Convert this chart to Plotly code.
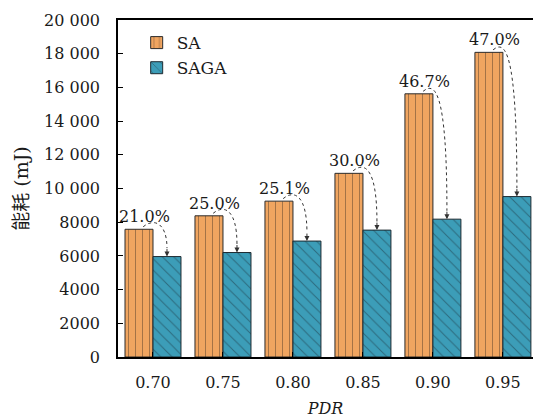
import plotly.graph_objects as go

categories = ["0.70", "0.75", "0.80", "0.85", "0.90", "0.95"]
sa_values = [7580, 8380, 9250, 10900, 15620, 18080]
saga_values = [5960, 6200, 6880, 7530, 8180, 9520]
pct_labels = ["21.0%", "25.0%", "25.1%", "30.0%", "46.7%", "47.0%"]
y_tickvals = [0, 2000, 4000, 6000, 8000, 10000, 12000, 14000, 16000, 18000, 20000]
y_ticktext = ["0", "2000", "4000", "6000", "8000", "10 000", "12 000", "14 000", "16 000", "18 000", "20 000"]

FONT = "DejaVu Serif, Noto Sans CJK SC"
FS = 16
idx = list(range(len(categories)))

fig = go.Figure()
fig.add_trace(go.Bar(
    x=idx, y=sa_values, name="SA",
    marker=dict(color="#F0A560", line=dict(color="#2b2b2b", width=1),
                pattern=dict(shape="|", size=7, solidity=0.12, fgcolor="#3a2c20", bgcolor="#F0A560")),
))
fig.add_trace(go.Bar(
    x=idx, y=saga_values, name="SAGA",
    marker=dict(color="#3C9DB8", line=dict(color="#1e2a30", width=1),
                pattern=dict(shape="\\", size=8, solidity=0.12, fgcolor="#1c3440", bgcolor="#3C9DB8")),
))

shapes = []
annotations = []
for i, (a, b, t) in enumerate(zip(sa_values, saga_values, pct_labels)):
    x0, y0 = i - 0.14, a + 150
    x3, y3 = i + 0.2, b + 500
    path = f"M {x0},{y0} C {i + 0.02},{a + 700} {x3},{a + 350} {x3},{y3}"
    shapes.append(dict(type="path", xref="x", yref="y", path=path,
                       line=dict(color="#333333", width=1, dash="dot")))
    annotations.append(dict(x=x3, y=b, xref="x", yref="y", text="", showarrow=True,
                            ax=0, ay=-9, arrowhead=2, arrowsize=1, arrowwidth=1,
                            arrowcolor="#333333"))
    annotations.append(dict(x=i, y=a, xref="x", yref="y", text=t, showarrow=False,
                            xshift=-8, yanchor="bottom", yshift=1,
                            font=dict(family=FONT, size=FS, color="#1a1a1a")))

fig.update_layout(
    width=533, height=418,
    margin=dict(l=118, r=0, t=20, b=61),
    paper_bgcolor="white", plot_bgcolor="white",
    barmode="group", bargap=0.2, bargroupgap=0,
    font=dict(family=FONT, size=FS, color="#1a1a1a"),
    showlegend=True,
    legend=dict(x=0.045, y=0.985, xanchor="left", yanchor="top",
                bgcolor="rgba(0,0,0,0)", font=dict(family=FONT, size=FS + 1), tracegroupgap=0),
    shapes=shapes, annotations=annotations,
    xaxis=dict(range=[-0.5, 5.43], tickvals=idx, ticktext=categories,
               ticks="inside", ticklen=5, tickcolor="black",
               showline=True, linecolor="black", linewidth=1.5, mirror=True,
               showgrid=False, zeroline=False, ticklabelstandoff=10,
               tickfont=dict(family=FONT, size=FS),
               title=dict(text="<i>PDR</i>", standoff=12, font=dict(family=FONT, size=FS))),
    yaxis=dict(range=[0, 20000], tickvals=y_tickvals, ticktext=y_ticktext,
               ticks="inside", ticklen=5, tickcolor="black",
               showline=True, linecolor="black", linewidth=1.5,
               showgrid=False, zeroline=False, ticklabelstandoff=13,
               tickfont=dict(family=FONT, size=FS),
               title=dict(text="能耗 (mJ)", standoff=10, font=dict(family=FONT, size=19))),
)

fig.write_html("out.html")
